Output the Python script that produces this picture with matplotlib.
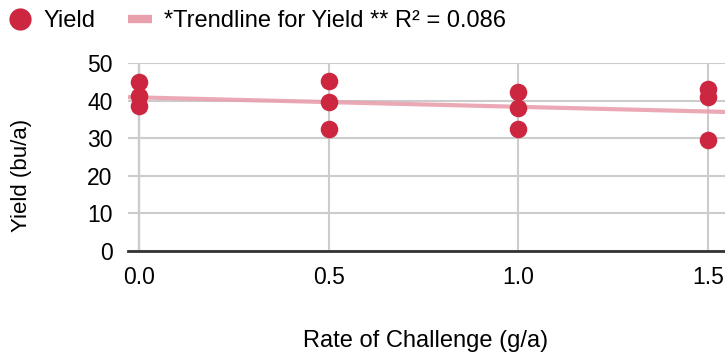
import numpy as np
import matplotlib
matplotlib.use("Agg")
from matplotlib import pyplot as plt
from matplotlib.lines import Line2D

plt.rcParams['font.family'] = ['Liberation Sans', 'DejaVu Sans']

rate = [0.0, 0.0, 0.0, 0.5, 0.5, 0.5, 1.0, 1.0, 1.0, 1.5, 1.5, 1.5]
yield_bu = [44.9, 41.2, 38.5, 45.1, 39.5, 32.4, 42.2, 37.9, 32.4, 43.2, 40.9, 29.5]
x_ticks = [0.0, 0.5, 1.0, 1.5]
y_ticks = [0, 10, 20, 30, 40, 50]

red = "#CC2640"
pink = "#E8A0AC"
fs = 17

W, H = 725, 354
fig = plt.figure(figsize=(W / 100, H / 100), dpi=100)
ax = fig.add_axes([128 / W, 1 - 251 / H, (W - 128) / W, (251 - 63) / H])

slope, icpt = np.polyfit(rate, yield_bu, 1)
xl = np.array([-0.03, 1.55])
ax.plot(xl, icpt + slope * xl, color=pink, lw=3, alpha=0.9, zorder=2)
ax.scatter(rate, yield_bu, s=160, color=red, zorder=3, linewidths=0)

ax.set_xlim(-0.029, 1.545)
ax.set_ylim(0, 50)
ax.set_xticks(x_ticks)
ax.set_xticklabels(["0.0", "0.5", "1.0", "1.5"])
ax.set_yticks(y_ticks)
ax.grid(True, color="#cccccc", lw=1.5, zorder=0)
ax.axvline(0, color="#333333", lw=1.5, zorder=1)
for s in ["top", "right", "left"]:
    ax.spines[s].set_visible(False)
ax.spines["bottom"].set_color("#333333")
ax.spines["bottom"].set_linewidth(2)
ax.tick_params(length=0, labelsize=16.5, pad=11)

fig.text(426 / W, 1 - 341 / H, "Rate of Challenge (g/a)", fontsize=fs,
         ha="center", va="center")
fig.text(22 / W, 1 - 175 / H, "Yield (bu/a)", fontsize=16, rotation=90,
         ha="center", va="center")

handles = [
    Line2D([], [], ls="none", marker="o", markersize=16, color=red, markeredgewidth=0),
    Line2D([], [], color=pink, lw=6, solid_capstyle="butt"),
]
labels = ["Yield", "*Trendline for Yield ** R² = 0.086"]
fig.legend(handles, labels, loc="center left", bbox_to_anchor=(8 / W, 1 - 21 / H),
           ncol=2, frameon=False, fontsize=fs, handlelength=1.0, columnspacing=1.4,
           handletextpad=0.5, borderpad=0, borderaxespad=0)

fig.savefig("out.png", dpi=100)
